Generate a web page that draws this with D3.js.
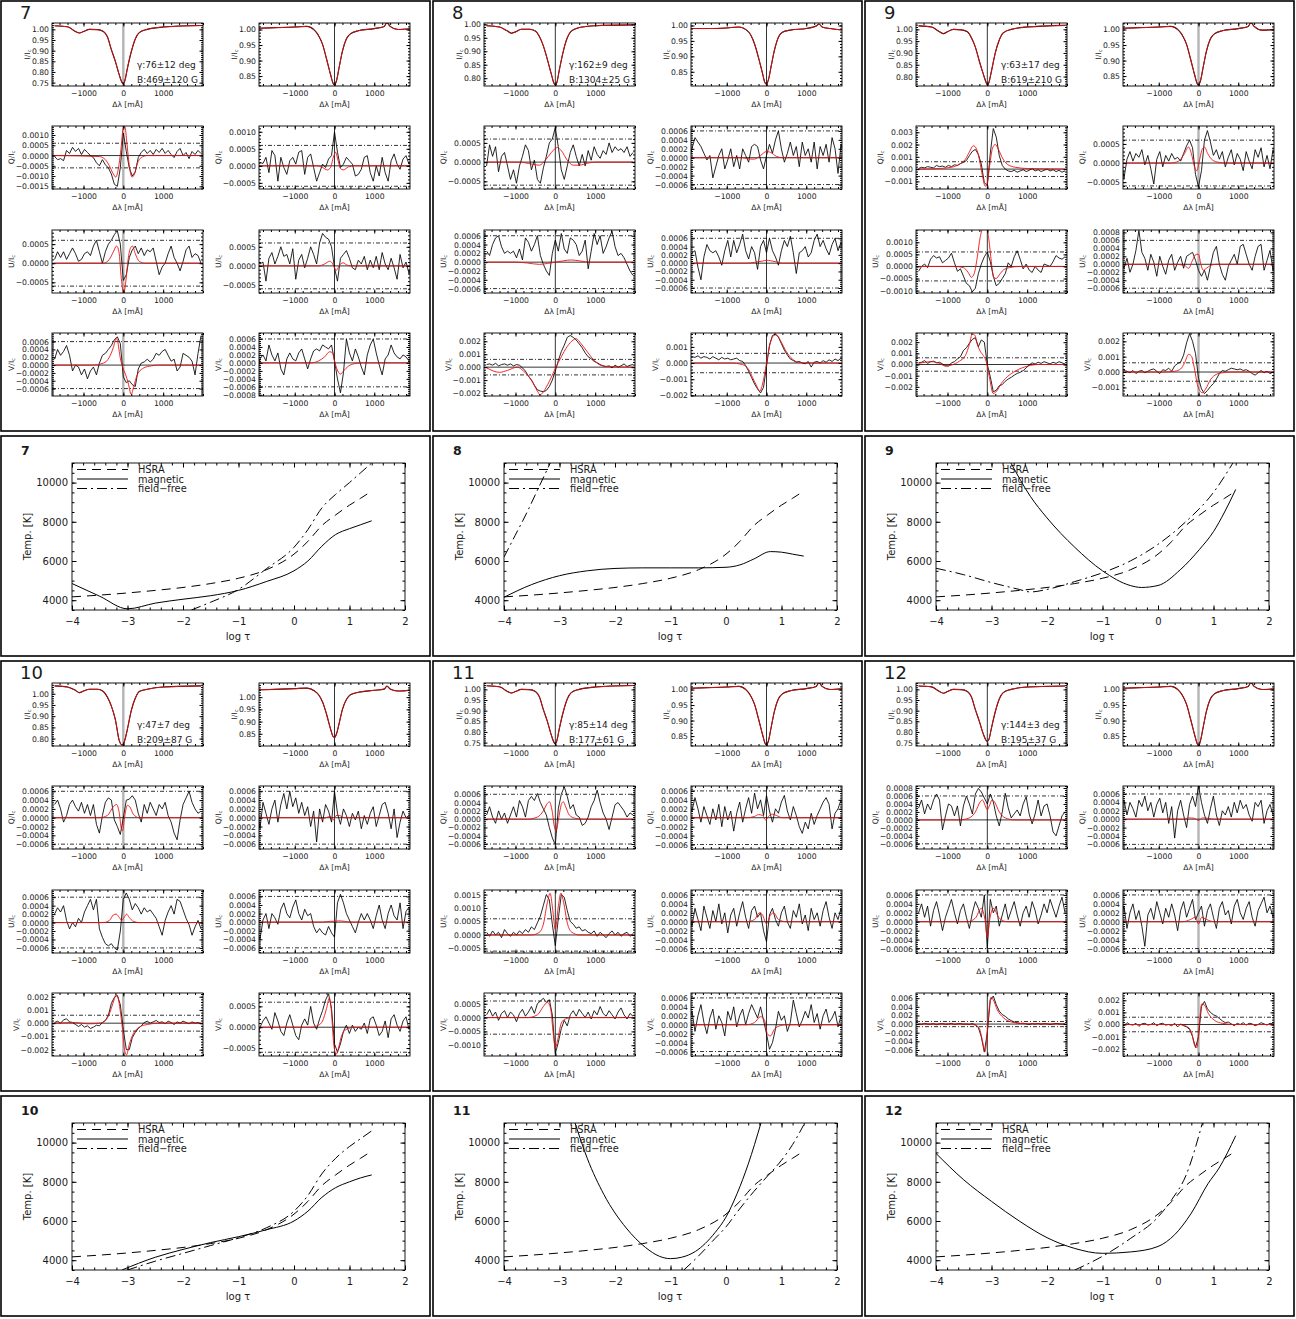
<!DOCTYPE html>
<html lang="en">
<head>
<meta charset="UTF-8">
<title>Stokes profiles and temperature stratifications</title>
<script src="https://d3js.org/d3.v7.min.js"></script>
<style>
  body { margin: 0; background: #fff; }
  svg text { font-family: "DejaVu Sans", sans-serif; fill: #1a1a1a; }
</style>
</head>
<body>
<div id="chart"></div>
<script>
// wavelength sampling of the observed profiles (mÅ)
const gridL = d3.range(-1725, 1951, 75);
const gridR = d3.range(-1950, 1951, 75);
const iGridL = [-1725,-1400,-1200,-1100,-1000,-850,-650,-500,-400,-300,-200,-100,-30,0,40,100,200,300,400,600,1000,1950];
const iGridR = [-1950,-1500,-1000,-700,-500,-400,-300,-200,-100,-40,0,50,120,200,300,400,600,1000,1250,1320,1400,1600,1950];

// Q,U,V values below are in units of 1e-5 I_c
// ---- box 7 ----
const i7L = [1.017,1.012,0.99,0.983,0.99,1.0,0.999,0.99,0.965,0.905,0.85,0.785,0.75,0.745,0.76,0.815,0.895,0.955,0.985,1.0,1.011,1.018];
const i7R = [1.004,1.006,1.008,1.01,0.997,0.98,0.952,0.905,0.855,0.828,0.822,0.835,0.88,0.93,0.97,0.986,0.996,1.003,1.01,1.022,1.01,1.0,1.003];
const q7L = [-5,-20,-15,-25,25,10,40,20,35,5,30,15,0,-10,-35,-50,-20,-45,-60,-90,-140,-150,-60,110,20,-60,-100,-80,-10,15,30,10,25,5,30,15,35,10,25,5,-10,20,35,0,15,-15,20,5,25,10];
const q7Lf = [[-1725,0],[-600,-5],[-450,-20],[-350,-50],[-250,-90],[-190,-105],[-130,-70],[-60,30],[0,135],[40,140],[90,60],[150,-50],[220,-105],[280,-90],[350,-40],[450,-10],[600,0],[1950,0]];
const q7R = [0,10,7,25,-20,45,30,-45,25,-5,-25,15,25,5,40,45,-25,25,35,-5,-45,-20,5,-5,20,30,100,40,-5,5,25,15,5,-30,-25,-10,25,30,-20,-45,0,-30,25,-20,-45,15,35,5,-10,20,30,5,25];
const q7Rf = [[-1950,0],[-450,0],[-300,-5],[-180,-12],[-100,-5],[-30,25],[30,40],[80,20],[150,-8],[220,-12],[350,-3],[500,0],[1950,0]];
const u7L = [10,30,15,30,10,25,40,25,5,10,25,30,20,45,60,30,0,30,50,60,75,85,50,-45,-30,15,35,45,25,40,20,35,30,40,5,-30,-10,0,25,45,15,0,-20,5,35,45,15,25,20,0];
const u7Lf = [[-1725,0],[-500,0],[-350,10],[-250,30],[-170,45],[-110,30],[-50,-40],[10,-80],[60,-50],[120,10],[180,40],[230,45],[300,25],[400,5],[550,0],[1950,0]];
const u7R = [20,5,10,-40,20,35,5,25,50,25,30,5,45,-35,15,30,-5,20,50,30,5,60,85,75,70,50,-5,-40,20,30,40,20,-5,-10,15,5,25,-10,15,-5,25,-10,35,5,-10,20,-5,-35,30,-5,10,-20,5];
const u7Rf = [[-1950,0],[-400,0],[-250,5],[-120,12],[-60,8],[0,-5],[40,-12],[90,-5],[150,5],[220,8],[300,3],[400,0],[1950,0]];
const v7L = [15,40,25,35,50,25,-15,0,-5,-25,-10,-35,-15,-5,-25,5,25,30,40,50,65,72,55,-30,-45,-40,-50,-55,-10,5,8,15,8,15,30,25,35,40,25,10,15,-15,-5,30,25,20,10,-25,30,75];
const v7Lf = [[-1725,0],[-800,0],[-500,5],[-350,20],[-250,45],[-180,68],[-140,60],[-80,20],[0,-10],[60,-25],[120,-45],[200,-75],[260,-55],[350,-25],[500,-8],[700,-2],[900,0],[1950,0]];
const v7R = [-30,10,20,5,45,20,5,25,-15,-30,10,25,10,5,25,35,10,-15,10,30,35,30,45,40,35,45,5,-40,-75,-25,60,25,5,35,15,-10,-30,20,45,60,25,-5,-30,10,20,45,25,15,10,20,15,5,0];
const v7Rf = [[-1950,0],[-600,0],[-400,5],[-250,15],[-120,28],[-50,25],[0,5],[60,-15],[150,-28],[230,-20],[350,-8],[500,-2],[700,0],[1950,0]];

// ---- box 8 ----
const i8L = [0.995,0.99,0.975,0.967,0.972,0.982,0.982,0.975,0.955,0.92,0.87,0.815,0.78,0.775,0.785,0.83,0.9,0.95,0.975,0.988,0.995,0.998];
const i8R = [0.99,0.99,0.992,0.995,0.985,0.97,0.94,0.895,0.845,0.815,0.81,0.825,0.87,0.92,0.962,0.978,0.985,0.99,0.998,1.005,0.995,0.99,0.985];
const q8L = [-10,45,15,40,-25,15,25,-10,-45,-20,-55,-10,15,45,30,-20,5,-45,-55,-15,15,50,60,90,40,-20,-45,-10,25,45,15,-10,20,-10,30,5,40,20,10,30,20,50,25,40,30,35,25,40,15,25];
const q8Lf = [[-1725,0],[-900,0],[-600,-5],[-400,-8],[-250,5],[-100,25],[50,38],[150,30],[300,5],[450,-8],[600,-8],[800,-3],[1000,0],[1950,0]];
const q8R = [-5,20,45,35,25,10,-5,5,-45,-20,5,20,-25,-5,20,-20,5,-25,20,5,-10,25,30,25,-5,-25,5,30,10,40,60,20,-10,10,35,5,25,-20,35,5,20,-10,35,-25,25,5,30,-10,45,20,-35,30,5];
const q8Rf = [[-1950,0],[-600,0],[-400,-3],[-300,-3],[-150,5],[0,14],[100,12],[250,3],[400,0],[1950,0]];
const u8L = [25,15,40,55,60,35,20,25,20,25,10,30,5,55,45,25,40,60,15,-5,-20,-30,20,50,25,65,30,20,55,50,40,15,25,50,-15,25,65,40,60,20,35,55,70,35,15,20,10,-5,-20,-30];
const u8Lf = [[-1725,0],[-1000,0],[-700,-2],[-400,-5],[-200,-3],[0,0],[200,3],[400,5],[600,3],[900,0],[1950,0]];
const u8R = [15,25,30,-10,-40,15,45,30,25,30,15,-5,30,55,15,55,25,45,70,30,10,40,25,-15,40,55,25,60,30,15,-5,30,55,40,65,25,-25,25,30,40,15,25,55,70,40,55,35,20,45,60,30,50,30];
const u8Rf = [[-1950,0],[-500,0],[-300,2],[-100,5],[0,7],[100,6],[250,3],[400,0],[1950,0]];
const v8L = [20,25,15,30,10,20,25,15,25,10,20,15,-5,-30,-70,-100,-140,-175,-185,-190,-180,-150,-100,-30,50,120,170,230,245,230,210,180,150,110,80,65,45,35,20,10,5,10,-5,15,0,10,25,5,15,20];
const v8Lf = [[-1725,-5],[-1400,-40],[-1200,-25],[-950,0],[-800,-30],[-600,-100],[-450,-185],[-380,-215],[-300,-190],[-150,-110],[0,-10],[150,80],[300,160],[450,210],[520,220],[650,180],[800,120],[950,60],[1100,20],[1300,5],[1950,0]];
const v8R = [30,40,35,45,30,40,35,25,40,30,20,35,25,30,20,25,30,15,10,-15,-50,-90,-130,-160,-185,-150,-20,110,170,180,160,120,80,50,25,15,5,10,0,-5,10,-25,5,10,0,15,5,20,10,25,15,30,20];
const v8Rf = [[-1950,0],[-900,0],[-600,-10],[-450,-40],[-350,-90],[-250,-140],[-170,-175],[-100,-130],[0,0],[80,110],[180,170],[250,175],[350,140],[500,70],[650,25],[800,5],[1000,0],[1950,0]];

// ---- box 9 ----
const i9L = [1.015,1.01,0.99,0.982,0.99,1.0,0.998,0.99,0.965,0.925,0.865,0.81,0.775,0.765,0.775,0.82,0.9,0.955,0.985,1.0,1.01,1.017];
const i9R = [1.004,1.006,1.008,1.01,0.997,0.98,0.952,0.905,0.855,0.828,0.822,0.835,0.88,0.93,0.97,0.986,0.996,1.003,1.01,1.022,1.01,0.998,1.001];
const q9L = [5,15,10,20,15,10,30,20,25,15,30,20,35,30,45,55,70,110,145,160,120,40,-110,-135,130,330,260,110,30,0,-15,-20,-10,-25,-15,-5,-20,-10,5,-15,-5,-20,-10,0,-15,-5,-20,-10,-25,-15];
const q9Lf = [[-1725,0],[-1200,5],[-900,15],[-700,40],[-550,80],[-450,140],[-350,190],[-280,170],[-200,80],[-120,-60],[-50,-140],[0,-110],[60,30],[130,170],[200,200],[280,160],[380,90],[500,40],[700,15],[1000,5],[1950,0]];
const q9R = [15,-40,10,30,5,25,15,35,-5,20,-15,-55,10,30,-10,20,5,25,10,15,5,25,45,60,40,-30,-62,-20,60,85,55,20,35,10,30,-10,15,35,-5,25,10,-20,30,5,-15,35,15,40,-10,20,-15,35,10];
const q9Rf = [[-1950,0],[-700,0],[-500,5],[-350,25],[-250,42],[-180,25],[-100,-10],[-40,-20],[20,5],[100,38],[150,42],[230,25],[350,8],[500,2],[700,0],[1950,0]];
const u9L = [-20,0,10,-5,30,45,35,40,15,25,35,55,15,-20,-10,-40,-70,-80,-105,-90,-30,10,40,60,20,-40,-80,-70,-50,-30,15,0,40,65,30,-10,10,-15,-25,0,-15,-25,10,5,0,20,45,35,30,40];
const u9Lf = [[-1725,0],[-800,0],[-600,-5],[-480,-25],[-400,-45],[-330,-30],[-250,40],[-180,120],[-100,160],[-20,160],[40,110],[100,20],[160,-45],[220,-50],[300,-35],[400,-15],[550,-5],[800,0],[1950,0]];
const u9R = [5,-10,15,-20,0,35,85,30,15,-15,25,5,-30,20,-5,-25,10,25,-15,5,20,-10,20,25,30,10,-15,-30,-15,-40,-5,30,45,0,-25,-40,-5,10,25,0,45,50,25,0,-15,20,45,50,-15,10,35,-15,10];
const u9Rf = [[-1950,0],[-600,0],[-350,-3],[-250,-10],[-150,10],[-60,25],[0,25],[60,0],[120,-15],[200,-10],[300,-3],[450,0],[1950,0]];
const v9L = [15,20,35,10,25,30,15,20,5,-10,-15,15,25,50,70,125,150,190,225,240,160,220,200,0,-110,-245,-230,-190,-180,-150,-130,-115,-95,-80,-70,-55,-30,-5,15,5,20,10,25,15,5,20,10,25,15,5];
const v9Lf = [[-1725,10],[-1400,25],[-1200,10],[-1050,-15],[-900,-5],[-700,30],[-550,80],[-450,180],[-380,270],[-320,265],[-250,180],[-180,120],[-100,80],[-30,30],[50,-110],[150,-260],[230,-240],[350,-170],[500,-110],[700,-60],[1000,-15],[1300,0],[1950,0]];
const v9R = [-5,10,5,-5,10,-10,5,10,-5,5,15,20,5,-10,15,10,25,5,40,55,65,110,190,250,200,120,-40,-110,-140,-120,-95,-75,-45,-10,10,5,15,25,20,15,20,10,15,5,-10,-20,-5,10,-5,5,-10,0,5];
const v9Rf = [[-1950,0],[-900,0],[-600,5],[-450,20],[-350,60],[-250,115],[-180,105],[-100,20],[-30,-80],[30,-120],[100,-135],[180,-110],[300,-50],[450,-15],[600,-5],[800,0],[1950,0]];

// ---- box 10 ----
const i10L = [1.035,1.03,1.015,1.005,1.012,1.02,1.02,1.01,0.985,0.945,0.885,0.79,0.772,0.775,0.795,0.84,0.925,0.98,1.01,1.02,1.03,1.035];
const i10R = [1.03,1.032,1.035,1.037,1.025,1.01,0.98,0.93,0.87,0.84,0.835,0.85,0.895,0.95,0.99,1.01,1.02,1.028,1.033,1.045,1.033,1.025,1.03];
const q10L = [30,40,20,-10,5,30,40,25,15,35,10,30,5,30,-15,-35,5,35,45,40,-5,-20,-38,0,40,42,50,40,10,-10,30,10,35,20,5,30,20,35,5,-10,-35,-50,-5,30,45,60,35,20,10,15];
const q10Lf = [[-1725,0],[-600,0],[-400,5],[-250,25],[-170,30],[-100,10],[-50,-25],[-20,-30],[30,0],[100,28],[160,25],[250,8],[400,0],[1950,0]];
const q10R = [30,-25,35,10,-15,20,40,-10,30,55,20,60,25,45,10,35,5,25,-20,15,-55,20,-10,30,15,-10,60,10,-15,20,5,-20,10,-5,15,-25,5,-15,10,25,-20,5,30,35,10,-25,20,-45,-10,15,0,5,10];
const q10Rf = [[-1950,0],[-500,0],[-300,-2],[-100,3],[-30,-5],[40,5],[120,5],[250,0],[1950,0]];
const u10L = [20,35,25,40,5,-15,0,-10,10,0,25,40,55,30,55,-15,-35,-50,-55,-50,-60,-65,-20,55,70,55,30,45,35,20,35,25,30,20,10,-10,-30,5,25,40,20,55,50,30,10,-5,-30,-10,5,-15];
const u10Lf = [[-1725,0],[-500,0],[-350,5],[-250,18],[-180,20],[-100,12],[-40,5],[20,12],[80,20],[150,12],[250,3],[400,0],[1950,0]];
const u10R = [-20,-40,5,20,-15,20,10,-5,30,45,20,10,35,52,20,5,30,15,20,-10,-25,-15,-25,-30,-10,-25,-35,45,65,45,20,5,-10,-25,0,20,5,20,5,-15,15,40,5,-15,20,40,15,5,45,-15,25,35,-15];
const u10Rf = [[-1950,0],[-300,0],[-100,2],[0,2],[100,3],[250,2],[400,0],[1950,0]];
const v10L = [5,15,0,25,33,10,5,-10,-25,-10,-30,-20,-40,-30,-15,-20,5,20,60,150,195,210,140,-50,-200,-200,-110,-70,-40,-20,5,15,0,10,20,5,10,-5,15,5,-10,10,0,15,5,-5,10,0,5,-5];
const v10Lf = [[-1725,0],[-1200,5],[-900,-5],[-600,0],[-450,20],[-350,70],[-250,160],[-180,215],[-130,190],[-80,100],[-20,-50],[30,-200],[80,-240],[150,-160],[250,-80],[400,-30],[600,-10],[900,0],[1950,0]];
const v10R = [-30,0,15,25,10,-5,35,15,-10,-20,10,30,5,-20,-30,5,20,5,50,10,-5,20,40,65,80,45,-40,-60,-40,-10,5,-15,5,-10,0,-5,10,-15,20,25,5,-20,-10,15,-25,20,30,5,-10,15,25,-5,20];
const v10Rf = [[-1950,0],[-600,0],[-400,5],[-300,15],[-200,45],[-130,70],[-80,40],[-20,-40],[40,-65],[100,-50],[180,-20],[300,-5],[500,0],[1950,0]];

// ---- box 11 ----
const i11L = [1.017,1.012,0.99,0.983,0.99,1.0,0.999,0.99,0.965,0.905,0.85,0.785,0.75,0.745,0.76,0.815,0.895,0.955,0.985,1.0,1.011,1.018];
const i11R = [1.004,1.006,1.008,1.01,0.997,0.98,0.952,0.905,0.855,0.828,0.822,0.835,0.88,0.93,0.97,0.986,0.996,1.003,1.01,1.022,1.01,1.0,1.003];
const q11L = [10,30,5,-10,20,0,15,-10,10,30,5,45,30,5,45,55,45,62,40,25,10,-20,-45,-62,25,60,78,55,25,35,10,5,-15,-10,5,30,45,70,40,15,0,-25,5,35,40,30,20,5,15,10];
const q11Lf = [[-1725,0],[-700,0],[-450,5],[-300,20],[-200,38],[-150,42],[-80,20],[-20,-20],[20,-28],[80,0],[150,35],[200,42],[260,30],[350,10],[500,2],[700,0],[1950,0]];
const q11R = [30,15,45,20,-10,25,5,-15,20,-5,30,-20,25,-5,15,-30,10,35,-10,20,45,10,55,20,40,5,50,15,-10,20,10,35,50,15,-5,25,5,-20,-35,-10,-25,10,-15,5,20,35,45,30,-25,10,20,40,25];
const q11Rf = [[-1950,0],[-500,0],[-300,3],[-200,7],[-100,5],[-20,-5],[50,3],[150,8],[250,5],[400,0],[1950,0]];
const u11L = [10,-5,15,0,10,-10,20,5,-5,10,0,15,5,20,10,30,20,45,70,110,150,130,40,-40,60,150,140,90,50,40,25,30,15,20,10,5,15,-5,10,0,-10,5,15,0,10,-5,5,10,-5,5];
const u11Lf = [[-1725,0],[-600,0],[-400,10],[-300,40],[-200,120],[-130,155],[-70,100],[0,20],[70,100],[140,155],[210,120],[300,45],[400,12],[600,0],[1950,0]];
const u11R = [20,-10,30,5,-20,35,10,-15,25,0,40,-5,20,-25,15,30,-10,20,45,10,-15,25,35,10,20,-20,-45,15,30,5,-10,20,35,0,-15,25,10,40,-5,15,-20,30,5,20,-10,25,45,10,-15,20,5,30,10];
const u11Rf = [[-1950,0],[-500,0],[-300,5],[-180,20],[-100,15],[0,-5],[100,15],[180,20],[300,5],[500,0],[1950,0]];
const v11L = [10,30,5,20,-10,15,25,0,20,10,-15,15,30,5,20,40,15,50,60,70,55,65,10,-130,-90,-40,-10,-30,10,25,5,30,15,0,20,-5,25,10,40,15,5,25,10,-5,20,35,10,-5,15,5];
const v11Lf = [[-1725,0],[-700,0],[-450,10],[-300,40],[-200,55],[-120,35],[-50,-60],[0,-110],[60,-80],[150,-20],[250,-5],[400,0],[1950,0]];
const v11R = [10,30,-15,20,45,5,-20,15,35,-10,20,5,-25,30,10,40,-5,20,35,0,25,45,30,15,40,10,-20,-55,-40,-10,30,10,20,-15,5,55,25,-5,10,30,15,45,5,25,-10,20,35,5,15,30,-5,20,10];
const v11Rf = [[-1950,0],[-500,0],[-300,5],[-150,18],[-50,10],[20,-20],[100,-25],[200,-10],[350,-2],[500,0],[1950,0]];

// ---- box 12 ----
const i12L = [1.016,1.012,0.99,0.982,0.99,1.0,0.999,0.99,0.965,0.905,0.85,0.79,0.76,0.755,0.765,0.815,0.895,0.955,0.985,1.0,1.011,1.016];
const i12R = [1.004,1.006,1.008,1.01,0.997,0.98,0.952,0.905,0.855,0.828,0.818,0.835,0.88,0.93,0.97,0.986,0.996,1.003,1.01,1.022,1.01,1.0,1.003];
const q12L = [30,50,15,40,25,50,65,50,-25,10,40,35,10,35,-15,35,60,40,15,65,79,70,55,40,65,45,10,-15,20,67,30,5,15,25,10,40,58,15,-10,15,50,10,35,40,10,-30,-40,-15,10,20];
const q12Lf = [[-1725,0],[-700,0],[-450,5],[-300,20],[-180,45],[-120,50],[-50,35],[0,25],[50,35],[120,50],[180,45],[300,20],[450,5],[700,0],[1950,0]];
const q12R = [35,45,10,40,25,5,45,30,55,20,40,5,35,50,15,40,-10,30,-45,20,45,10,-20,35,55,30,80,40,10,-10,25,55,10,-15,20,10,30,5,40,15,45,25,35,10,-5,40,30,45,-10,20,35,10,5];
const q12Rf = [[-1950,0],[-400,0],[-250,3],[-100,2],[0,-3],[100,3],[250,2],[400,0],[1950,0]];
const u12L = [20,40,10,35,-10,25,45,15,-20,10,30,50,20,-5,25,40,10,-15,20,45,30,10,60,-60,50,20,35,-10,15,40,5,25,45,15,-10,20,35,10,45,25,-5,15,40,20,50,30,10,35,55,20];
const u12Lf = [[-1725,0],[-500,0],[-300,8],[-150,30],[-60,5],[0,-35],[60,5],[150,30],[300,8],[500,0],[1950,0]];
const u12R = [10,35,-15,20,40,5,25,-10,-55,15,30,5,45,20,-5,30,10,40,15,-20,25,45,10,30,50,5,20,35,-10,25,40,10,-15,30,45,15,25,-5,35,50,20,5,30,45,10,-10,25,40,55,20,35,10,30];
const u12Rf = [[-1950,0],[-400,0],[-200,5],[-80,10],[0,-5],[80,10],[200,5],[400,0],[1950,0]];
const v12L = [5,-10,15,0,-5,10,-15,5,10,-5,0,15,-10,5,10,-5,0,-10,10,-20,-80,-300,-650,-200,550,650,450,300,220,180,120,80,50,30,15,20,5,-10,10,0,15,-5,10,5,-10,0,15,5,-5,10];
const v12Lf = [[-1725,0],[-500,0],[-300,-20],[-200,-100],[-120,-400],[-60,-640],[-20,-400],[30,200],[90,620],[150,560],[250,330],[400,150],[600,50],[900,10],[1950,0]];
const v12R = [5,-10,15,0,-5,10,-15,5,10,-5,0,15,-10,5,10,-5,0,-10,10,-20,5,-10,-20,-40,-100,-190,-100,150,190,130,100,80,70,50,30,15,20,5,-10,10,0,15,-5,10,5,-10,0,15,5,-5,10,5,0];
const v12Rf = [[-1950,0],[-500,0],[-300,-15],[-180,-60],[-100,-170],[-40,-190],[20,0],[80,170],[150,160],[250,90],[400,35],[600,10],[900,0],[1950,0]];

// temperature stratifications, [log tau, T(K)]
const hsra = [[-4,4170],[-3.5,4260],[-3,4370],[-2.5,4500],[-2,4650],[-1.5,4850],[-1,5120],[-0.5,5550],[0,6350],[0.25,7000],[0.5,7800],[0.75,8350],[1,8850],[1.2,9200],[1.4,9570]];
const mag7 = [[-4,4850],[-3.5,4200],[-3,3560],[-2.5,3850],[-2,4050],[-1.5,4230],[-1,4500],[-0.5,4950],[0,5500],[0.25,6000],[0.5,6750],[0.75,7350],[1,7650],[1.2,7850],[1.4,8050]];
const ff7 = [[-1.85,3500],[-1.5,3900],[-1,4550],[-0.5,5600],[0,6700],[0.25,7600],[0.5,8700],[0.75,9400],[1,10000],[1.2,10500],[1.4,11000]];
const mag8 = [[-4,4150],[-3.5,4800],[-3,5250],[-2.5,5500],[-2,5620],[-1.5,5650],[-1,5650],[-0.5,5650],[0,5680],[0.25,5800],[0.5,6100],[0.8,6480],[1,6450],[1.2,6350],[1.4,6250]];
const ff8 = [[-4,6200],[-3.8,7300],[-3.6,8400],[-3.4,9600],[-3.2,10800],[-3.15,11100]];
const mag9 = [[-2.65,11000],[-2.3,9300],[-2,8200],[-1.5,6700],[-1,5500],[-0.5,4750],[-0.3,4650],[0,4750],[0.4,5550],[0.75,6600],[1,7500],[1.2,8500],[1.4,9650]];
const ff9 = [[-4,5630],[-3.5,5300],[-3,4900],[-2.5,4550],[-2.3,4420],[-2,4550],[-1.5,4950],[-1,5400],[-0.5,6000],[0,6850],[0.5,8000],[1,9500],[1.35,11000]];
const mag10 = [[-3.1,3500],[-2.5,4150],[-2,4550],[-1.5,4900],[-1,5200],[-0.5,5550],[0,6000],[0.25,6500],[0.5,7200],[0.75,7700],[1,8000],[1.2,8200],[1.4,8350]];
const ff10 = [[-3,3500],[-2.5,3950],[-2,4350],[-1.5,4750],[-1,5150],[-0.5,5650],[0,6500],[0.25,7300],[0.5,8400],[0.75,9200],[1,9800],[1.2,10200],[1.4,10600]];
const mag11 = [[-2.72,11000],[-2.5,9200],[-2.2,7350],[-1.8,5650],[-1.45,4650],[-1.2,4200],[-1,4080],[-0.8,4150],[-0.55,4450],[-0.2,5400],[0,6200],[0.2,7400],[0.4,8900],[0.63,11000]];
const ff11 = [[-0.76,3500],[-0.5,4200],[-0.2,5100],[0,5700],[0.2,6450],[0.5,7500],[0.75,8300],[1,9100],[1.2,9900],[1.4,10900]];
const mag12 = [[-4,9450],[-3.5,8100],[-3,7000],[-2.5,6000],[-2,5150],[-1.5,4600],[-1,4350],[-0.5,4420],[0,4700],[0.3,5300],[0.6,6400],[0.9,7900],[1.1,8700],[1.4,10350]];
const ff12 = [[-1.5,3500],[-1,4200],[-0.5,5100],[0,6200],[0.25,7100],[0.5,8300],[0.8,11000]];

// tick label sets
const tI75 = [0.75,0.80,0.85,0.90,0.95,1.00], tI80 = [0.80,0.85,0.90,0.95,1.00], tI85 = [0.85,0.90,0.95,1.00];
const t6 = [-60,-40,-20,0,20,40,60], t5 = [-50,0,50];

const boxes = [
  {num:"7", annot:["γ:76±12 deg","B:469±120 G"], gray:"L",
   I:[[i7L,[0.734,1.03],tI75],[i7R,[0.818,1.021],tI85]],
   Q:[[q7L,q7Lf,[-163,144],[-150,-100,-50,0,50,100],4],[q7R,q7Rf,[-68,117],[-50,0,50,100],4]],
   U:[[u7L,u7Lf,[-78,87],t5,4],[u7R,u7Rf,[-71,94],t5,4]],
   V:[[v7L,v7Lf,[-79,82],t6,4],[v7R,v7Rf,[-83,75],[-80,-60,-40,-20,0,20,40,60],4]]},
  {num:"8", annot:["γ:162±9 deg","B:1304±25 G"], gray:null,
   I:[[i8L,[0.771,1.005],tI80],[i8R,[0.804,1.008],tI85]],
   Q:[[q8L,q8Lf,[-70,94],t5,4],[q8R,q8Rf,[-70,71],t6,4]],
   U:[[u8L,u8Lf,[-70,73],t6,4],[u8R,u8Rf,[-72,80],t6,4]],
   V:[[v8L,v8Lf,[-223,264],[-200,-100,0,100,200],3],[v8R,v8Rf,[-204,186],[-200,-100,0,100],3]]},
  {num:"9", annot:["γ:63±17 deg","B:619±210 G"], gray:"R",
   I:[[i9L,[0.76,1.027],tI80],[i9R,[0.818,1.021],tI85]],
   Q:[[q9L,q9Lf,[-162,351],[-100,0,100,200,300],3],[q9R,q9Rf,[-68,97],t5,4]],
   U:[[u9L,u9Lf,[-110,151],[-100,-50,0,50,100],4],[u9R,u9Rf,[-72,86],[-60,-40,-20,0,20,40,60,80],4]],
   V:[[v9L,v9Lf,[-282,282],[-200,-100,0,100,200],3],[v9R,v9Rf,[-156,254],[-100,0,100,200],3]]},
  {num:"10", annot:["γ:47±7 deg","B:209±87 G"], gray:"L",
   I:[[i10L,[0.767,1.048],tI80],[i10R,[0.80,1.058],tI85]],
   Q:[[q10L,q10Lf,[-71,72],t6,4],[q10R,q10Rf,[-71,72],t6,4]],
   U:[[u10L,u10Lf,[-72,77],t6,4],[u10R,u10Rf,[-72,75],t6,4]],
   V:[[v10L,v10Lf,[-248,228],[-200,-100,0,100,200],3],[v10R,v10Rf,[-69,82],t5,4]]},
  {num:"11", annot:["γ:85±14 deg","B:177±61 G"], gray:null,
   I:[[i11L,[0.734,1.03],tI75],[i11R,[0.818,1.021],tI85]],
   Q:[[q11L,q11Lf,[-72,80],t6,4],[q11R,q11Rf,[-70,71],t6,4]],
   U:[[u11L,u11Lf,[-67,167],[-50,0,50,100,150],4],[u11R,u11Rf,[-70,71],t6,4]],
   V:[[v11L,v11Lf,[-139,89],[-100,-50,0,50],4],[v11R,v11Rf,[-70,71],t6,4]]},
  {num:"12", annot:["γ:144±3 deg","B:195±37 G"], gray:"R",
   I:[[i12L,[0.734,1.03],tI75],[i12R,[0.818,1.021],tI85]],
   Q:[[q12L,q12Lf,[-73,85],[-60,-40,-20,0,20,40,60,80],4],[q12R,q12Rf,[-71,79],t6,4]],
   U:[[u12L,u12Lf,[-70,71],t6,4],[u12R,u12Rf,[-70,71],t6,4]],
   V:[[v12L,v12Lf,[-740,720],[-600,-400,-200,0,200,400,600],3],[v12R,v12Rf,[-260,260],[-200,-100,0,100,200],3]]}
];
const temps = [
  {num:"7", mag:mag7, ff:ff7}, {num:"8", mag:mag8, ff:ff8}, {num:"9", mag:mag9, ff:ff9},
  {num:"10", mag:mag10, ff:ff10}, {num:"11", mag:mag11, ff:ff11}, {num:"12", mag:mag12, ff:ff12}
];

// ---------------- drawing ----------------
const W = 1296, H = 1319;
const svg = d3.select("#chart").append("svg").attr("width", W).attr("height", H);
svg.append("rect").attr("width", W).attr("height", H).attr("fill", "#fff");

const colX = [0, 432, 864];
const stokesY = [0, 660], tempY = [435, 1095];
const pLeft = [52, 259], pW = 151, pTop = [23, 126, 230, 333], pH = 63;
const xDom = [[-1790, 2000], [-1900, 1900]];
const minus = s => s.replace("-", "\u2212");
let clipN = 0;

function minorTicks(dom, step) {
  const e = Math.pow(10, Math.floor(Math.log10(step) + 1e-9));
  const ms = step / (Math.round(step / e) === 2 ? 4 : 5);
  const lo = Math.min(...dom), hi = Math.max(...dom);
  return d3.range(Math.ceil(lo / ms - 1e-6), Math.floor(hi / ms + 1e-6) + 1).map(i => +(i * ms).toFixed(8));
}

// IDL style box: ticks pointing inward on all four sides
function frame(g, x, y, o) {
  const [xa, xb] = x.range(), [yb, ya] = y.range();
  const sides = [[d3.axisBottom, x, yb, true], [d3.axisTop, x, ya, false], [d3.axisLeft, y, xa, true], [d3.axisRight, y, xb, false]];
  let leftG;
  sides.forEach(([ax, sc, pos, lab], k) => {
    const isX = k < 2;
    const tr = isX ? `translate(0,${pos})` : `translate(${pos},0)`;
    g.append("g").attr("transform", tr)
      .call(ax(sc).tickValues(isX ? o.xm : o.ym).tickSize(-o.min).tickFormat(""))
      .call(s => s.select(".domain").remove());
    const a = g.append("g").attr("transform", tr)
      .call(ax(sc).tickValues(isX ? o.xt : o.yt).tickSize(-o.maj).tickPadding(isX ? o.xpad : o.ypad)
        .tickFormat(lab ? (isX ? o.xf : o.yf) : ""))
      .call(s => s.select(".domain").remove())
      .attr("font-size", o.fs);
    if (k === 2) leftG = a;
  });
  g.append("rect").attr("x", xa).attr("y", ya).attr("width", xb - xa).attr("height", yb - ya)
    .attr("fill", "none").attr("stroke", "#000").attr("stroke-width", 0.9);
  return xa + leftG.node().getBBox().x;
}

function clipRect(g, x, y, w, h) {
  const id = "clip" + (clipN++);
  g.append("clipPath").attr("id", id).append("rect").attr("x", x).attr("y", y).attr("width", w).attr("height", h);
  return g.append("g").attr("clip-path", `url(#${id})`);
}

function stokesPanel(g, r, c, lab, p, gray) {
  const isI = lab === "I";
  const px = pLeft[c], py = pTop[r];
  const x = d3.scaleLinear(xDom[c], [px, px + pW]);
  const dom = isI ? p[1] : p[2], ticks = isI ? p[2] : p[3];
  const y = d3.scaleLinear(dom, [py + pH, py]);
  const dec = isI ? 2 : p[4];
  const yf = isI ? (v => v.toFixed(2)) : (v => minus((v * 1e-5).toFixed(dec)));
  const pg = clipRect(g, px, py, pW, pH);

  // reference lines
  if (gray) pg.append("line").attr("x1", x(0)).attr("x2", x(0)).attr("y1", py).attr("y2", py + pH)
    .attr("stroke", "#b4b4b4").attr("stroke-width", 2.4);
  else pg.append("line").attr("x1", x(0)).attr("x2", x(0)).attr("y1", py).attr("y2", py + pH)
    .attr("stroke", "#000").attr("stroke-width", 0.8);
  if (!isI) {
    pg.append("line").attr("x1", px).attr("x2", px + pW).attr("y1", y(0)).attr("y2", y(0))
      .attr("stroke", "#000").attr("stroke-width", 0.8);
    [60, -60].forEach(t => pg.append("line").attr("x1", px).attr("x2", px + pW).attr("y1", y(t)).attr("y2", y(t))
      .attr("stroke", "#000").attr("stroke-width", 0.8).attr("stroke-dasharray", "4,2,1,2"));
  }
  if (isI) {
    const pts = d3.zip(c ? iGridR : iGridL, p[0]);
    const smooth = d3.line().x(d => x(d[0])).y(d => y(d[1])).curve(d3.curveMonotoneX);
    pg.append("path").attr("d", smooth(pts)).attr("fill", "none").attr("stroke", "#000").attr("stroke-width", 1.1);
    pg.append("path").attr("d", smooth(pts)).attr("fill", "none").attr("stroke", "#f01010").attr("stroke-width", 0.9);
  } else {
    const pts = d3.zip(c ? gridR : gridL, p[0]);
    pg.append("path").attr("d", d3.line().x(d => x(d[0])).y(d => y(d[1]))(pts))
      .attr("fill", "none").attr("stroke", "#000").attr("stroke-width", 0.85);
    pg.append("path").attr("d", d3.line().x(d => x(d[0])).y(d => y(d[1])).curve(d3.curveMonotoneX)(p[1]))
      .attr("fill", "none").attr("stroke", "#f01010").attr("stroke-width", 0.9);
  }

  const step = ticks[1] - ticks[0];
  const lx = frame(g, x, y, {
    xt: [-1000, 0, 1000], xm: minorTicks(xDom[c], 1000), yt: ticks, ym: minorTicks(dom, step),
    xf: v => minus(String(v)), yf, maj: 3.5, min: 2, xpad: 4.5, ypad: 3, fs: 7.7
  });
  const t = g.append("text").attr("transform", `translate(${lx - 2},${py + pH / 2}) rotate(-90)`)
    .attr("text-anchor", "middle").attr("font-size", 7.6);
  t.append("tspan").text(lab + "/I");
  t.append("tspan").attr("font-size", 5).attr("dy", 1.6).text("c");
  g.append("text").attr("x", px + pW / 2).attr("y", py + pH + 20.5).attr("text-anchor", "middle")
    .attr("font-size", 7.6).text("Δλ [mÅ]");
}

function stokesBox(bx, by, b) {
  const g = svg.append("g").attr("transform", `translate(${bx},${by})`);
  g.append("rect").attr("x", 1).attr("y", 1).attr("width", 429).attr("height", 430)
    .attr("fill", "none").attr("stroke", "#000").attr("stroke-width", 1.6);
  g.append("text").attr("x", 20).attr("y", 18.5).attr("font-size", 18).text(b.num);
  ["I", "Q", "U", "V"].forEach((lab, r) => {
    [0, 1].forEach(c => stokesPanel(g, r, c, lab, b[lab][c], b.gray === (c ? "R" : "L")));
  });
  b.annot.forEach((s, k) => g.append("text").attr("x", 137).attr("y", 67.5 + k * 15.5)
    .attr("font-size", 9).attr("fill", "#333").text(s));
}

function tempBox(bx, by, t) {
  const g = svg.append("g").attr("transform", `translate(${bx},${by})`);
  g.append("rect").attr("x", 1).attr("y", 1).attr("width", 429).attr("height", 220)
    .attr("fill", "none").attr("stroke", "#000").attr("stroke-width", 1.6);
  g.append("text").attr("x", 21).attr("y", 19.5).attr("font-size", 12.5).attr("font-weight", "bold").text(t.num);
  const x = d3.scaleLinear([-4, 2], [72, 405]);
  const y = d3.scaleLinear([3500, 11000], [175, 28]);
  const pg = clipRect(g, 72, 28, 333, 147);
  const line = d3.line().x(d => x(d[0])).y(d => y(d[1])).curve(d3.curveMonotoneX);
  const styles = [["HSRA", hsra, "9,6"], ["magnetic", t.mag, null], ["field\u2212free", t.ff, "10,4,2,4"]];
  styles.forEach(([name, data, dash]) => {
    const path = pg.append("path").attr("d", line(data)).attr("fill", "none").attr("stroke", "#000").attr("stroke-width", 1);
    if (dash) path.attr("stroke-dasharray", dash);
  });
  // legend
  styles.forEach(([name, data, dash], k) => {
    const ly = 34.5 + k * 9.5;
    const l = g.append("line").attr("x1", 77).attr("x2", 128).attr("y1", ly).attr("y2", ly)
      .attr("stroke", "#000").attr("stroke-width", 1);
    if (dash) l.attr("stroke-dasharray", dash);
    g.append("text").attr("x", 138).attr("y", ly + 3.5).attr("font-size", 9.8).text(name);
  });
  const lx = frame(g, x, y, {
    xt: d3.range(-4, 3), xm: minorTicks([-4, 2], 1), yt: [4000, 6000, 8000, 10000], ym: minorTicks([3500, 11000], 2000),
    xf: v => minus(String(v)), yf: v => String(v), maj: 4.5, min: 2.5, xpad: 8, ypad: 4, fs: 10
  });
  g.append("text").attr("transform", `translate(${lx - 5},${28 + 147 / 2}) rotate(-90)`)
    .attr("text-anchor", "middle").attr("font-size", 10).text("Temp. [K]");
  g.append("text").attr("x", 238).attr("y", 205).attr("text-anchor", "middle").attr("font-size", 10).text("log τ");
}

boxes.forEach((b, k) => stokesBox(colX[k % 3], stokesY[Math.floor(k / 3)], b));
temps.forEach((t, k) => tempBox(colX[k % 3], tempY[Math.floor(k / 3)], t));
</script>
</body>
</html>
